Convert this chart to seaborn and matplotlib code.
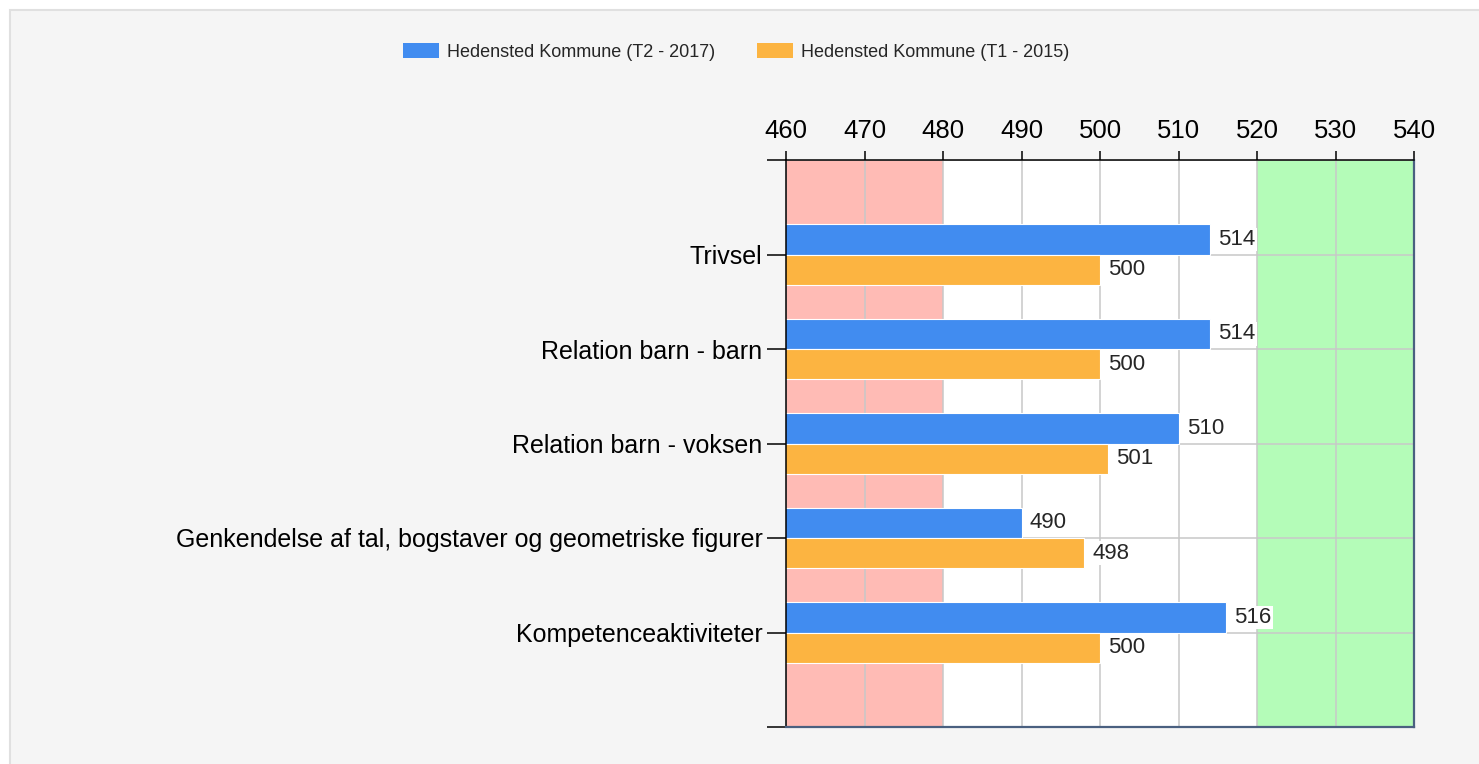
import pandas as pd
import seaborn as sns
from matplotlib import pyplot as plt
from matplotlib.patches import Patch, Rectangle

# Chart data
categories = ["Trivsel", "Relation barn - barn", "Relation barn - voksen",
              "Genkendelse af tal, bogstaver og geometriske figurer",
              "Kompetenceaktiviteter"]
series = ["Hedensted Kommune (T2 - 2017)", "Hedensted Kommune (T1 - 2015)"]
t2_2017 = [514, 514, 510, 490, 516]
t1_2015 = [500, 500, 501, 498, 500]
x_ticks = [460, 470, 480, 490, 500, 510, 520, 530, 540]

df = pd.DataFrame({
    "Område": categories * 2,
    "Score": t2_2017 + t1_2015,
    "Serie": [series[0]] * len(categories) + [series[1]] * len(categories),
})
colors = {series[0]: "#418cf0", series[1]: "#fcb441"}

sns.set_style("white")
plt.rcParams["font.family"] = ["Liberation Sans", "DejaVu Sans"]

W, H = 1479, 764
fig = plt.figure(figsize=(W / 100, H / 100), dpi=100)
fig.patch.set_facecolor("white")
fig.add_artist(Rectangle((10 / W, -0.01), 1.0, 1 - 10 / H + 0.01,
                         transform=fig.transFigure, facecolor="#f5f5f5",
                         edgecolor="#e0e0e0", linewidth=1.5, zorder=-10))

ax = fig.add_axes([786 / W, 37 / H, 628 / W, 567 / H])
ax.set_facecolor("white")

sns.barplot(data=df, x="Score", y="Område", hue="Serie", palette=colors,
            orient="h", width=0.64, saturation=1, legend=False,
            edgecolor="white", linewidth=0.8, ax=ax)

ax.set_xlim(x_ticks[0], x_ticks[-1])
ax.set_ylim(len(categories), -1)

# red / green zones
ax.axvspan(460, 480, color="#ffbbb5", zorder=0, lw=0)
ax.axvspan(520, 540, color="#b4fcb8", zorder=0, lw=0)

ax.set_axisbelow(True)
ax.grid(True, color="#c8c8c8", linewidth=1.1)

ax.xaxis.tick_top()
ax.set_xticks(x_ticks)
ax.tick_params(axis="x", direction="out", length=6.5, width=1.1, labelsize=18.5,
               pad=6, top=True, bottom=False, labeltop=True, labelbottom=False,
               colors="black")
ax.set_yticks(range(-1, len(categories) + 1))
ax.set_yticklabels([""] + categories + [""])
ax.tick_params(axis="y", direction="out", length=14, width=1.1, labelsize=18,
               pad=3, left=True, colors="black")
ax.set_xlabel("")
ax.set_ylabel("")

for side in ["left", "top"]:
    ax.spines[side].set_color("black")
    ax.spines[side].set_linewidth(1.1)
for side in ["right", "bottom"]:
    ax.spines[side].set_color("#4a6080")
    ax.spines[side].set_linewidth(1.6)

for cont in ax.containers:
    ax.bar_label(cont, padding=6, fontsize=16,
                 bbox=dict(facecolor="white", edgecolor="none", pad=1))

handles = [Patch(facecolor=colors[s], edgecolor="none") for s in series]
fig.legend(handles, series, loc="center", bbox_to_anchor=(736 / W, 1 - 52 / H),
           ncol=2, frameon=False, fontsize=13, handlelength=2.0,
           handleheight=0.85, handletextpad=0.45, columnspacing=2.3)

fig.savefig("out.png", dpi=100)
